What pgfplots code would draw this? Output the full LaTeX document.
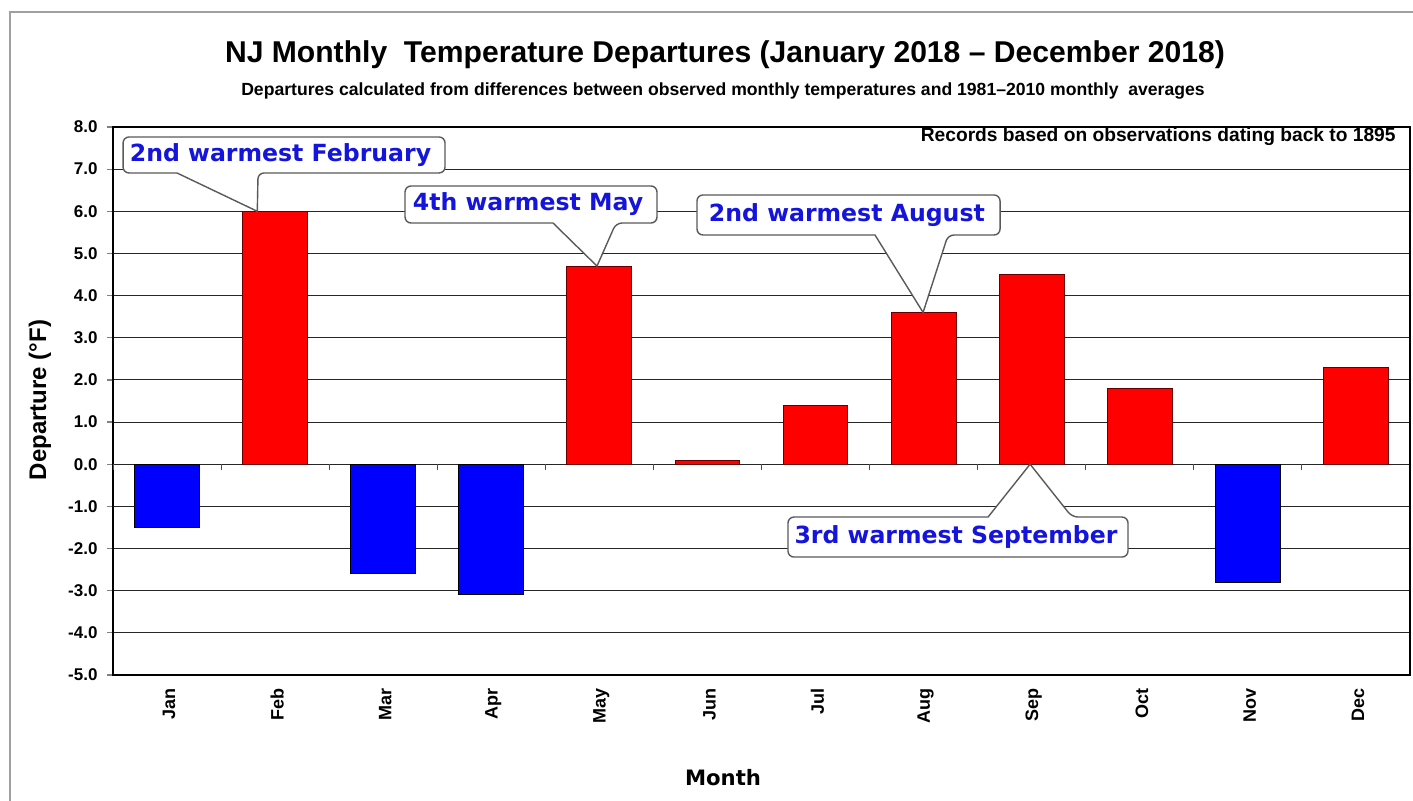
\documentclass[border=0pt]{standalone}
\usepackage{pgfplots}
\pgfplotsset{compat=1.18}
\usepackage{fontspec}
\setmainfont{Liberation Sans}
\newfontfamily\callfont{DejaVu Sans}
\definecolor{barred}{RGB}{255,0,0}
\definecolor{barblue}{RGB}{0,0,255}
\definecolor{calltext}{RGB}{20,20,220}
\definecolor{framegray}{RGB}{160,160,160}
\definecolor{callgray}{RGB}{90,90,90}
\tikzset{callbox/.style={draw=callgray, fill=white, line width=0.7pt},
  calltxt/.style={font=\callfont\bfseries\fontsize{11.8}{13}\selectfont, text=calltext, inner sep=0pt}}
\begin{document}
\begin{tikzpicture}
\useasboundingbox (0,0) rectangle (706.5pt,400.5pt);
\fill[white] (0,0) rectangle (706.5pt,400.5pt);
\draw[framegray, line width=0.6pt] (5pt,-20pt) -- (5pt,394.5pt) -- (730pt,394.5pt);
\node[font=\bfseries\fontsize{15.05}{18}\selectfont] at (362.5pt,373pt) {NJ Monthly\ \ Temperature Departures (January 2018 -- December 2018)};
\node[font=\bfseries\fontsize{8.8}{10}\selectfont] at (361.5pt,355pt) {Departures calculated from differences between observed monthly temperatures and 1981--2010 monthly\ \ averages};
\node[font=\bfseries\fontsize{12}{14}\selectfont, rotate=90] at (20pt,200.5pt) {Departure (\textdegree F)};
\node[font=\callfont\bfseries\fontsize{10.6}{12}\selectfont] at (361.5pt,11.5pt) {Month};
\begin{axis}[
  at={(56.5pt,63pt)}, anchor=south west,
  scale only axis, width=648.5pt, height=274pt,
  xmin=0.5, xmax=12.5, ymin=-5, ymax=8,
  xtick={1,...,12},
  xticklabels={Jan,Feb,Mar,Apr,May,Jun,Jul,Aug,Sep,Oct,Nov,Dec},
  x tick style={draw=none},
  xticklabel style={rotate=90, anchor=east, font=\bfseries\fontsize{9}{10}\selectfont, yshift=-1pt},
  ytick={-5,-4,...,8},
  ytick pos=left,
  tick align=outside,
  major tick length=3pt,
  y tick style={gray, line width=0.6pt},
  yticklabel style={font=\bfseries\fontsize{8.5}{10}\selectfont, xshift=-1.2pt},
  yticklabel={\pgfmathprintnumber[fixed, fixed zerofill, precision=1, assume math mode=true]{\tick}},
  ymajorgrids,
  grid style={black!85, line width=0.5pt},
  axis line style={black, line width=1.1pt},
  clip=false,
]
\addplot[ybar, bar width=0.6, bar shift=0pt, fill=barred, draw=black!60!red, line width=0.5pt]
  coordinates {(2,6.0) (5,4.7) (6,0.1) (7,1.4) (8,3.6) (9,4.5) (10,1.8) (12,2.3)};
\addplot[ybar, bar width=0.6, bar shift=0pt, fill=barblue, draw=black, line width=0.5pt]
  coordinates {(1,-1.5) (3,-2.6) (4,-3.1) (11,-2.8)};
% small boundary ticks on the zero line
\pgfplotsinvokeforeach{0.5,1.5,...,11.5}{
  \draw[black!70, line width=0.5pt] (axis cs:#1,0) -- (axis cs:#1,-0.13);
}
% Feb callout
\draw[callbox] (axis cs:2.0,7.763) [rounded corners=3pt] -- (axis cs:3.572,7.763) -- (axis cs:3.572,6.909) -- (axis cs:1.842,6.909) [sharp corners] -- (axis cs:1.835,6.0) -- (axis cs:1.092,6.909) [rounded corners=3pt] -- (axis cs:0.593,6.909) -- (axis cs:0.593,7.763) -- cycle;
\node[calltxt] at (axis cs:2.05,7.33) {2nd warmest February};
% May callout
\draw[callbox] (axis cs:4.3,6.600) [rounded corners=3pt] -- (axis cs:5.533,6.600) -- (axis cs:5.533,5.722) -- (axis cs:5.154,5.722) [sharp corners] -- (axis cs:4.978,4.7) -- (axis cs:4.571,5.722) [rounded corners=3pt] -- (axis cs:3.202,5.722) -- (axis cs:3.202,6.600) -- cycle;
\node[calltxt] at (axis cs:4.34,6.17) {4th warmest May};
% Aug callout
\draw[callbox] (axis cs:7.3,6.387) [rounded corners=3pt] -- (axis cs:8.707,6.387) -- (axis cs:8.707,5.438) -- (axis cs:8.226,5.438) [sharp corners] -- (axis cs:7.995,3.6) -- (axis cs:7.550,5.438) [rounded corners=3pt] -- (axis cs:5.903,5.438) -- (axis cs:5.903,6.387) -- cycle;
\node[calltxt] at (axis cs:7.29,5.92) {2nd warmest August};
% Sep callout
\draw[callbox] (axis cs:8.0,-2.202) [rounded corners=3pt] -- (axis cs:9.891,-2.202) -- (axis cs:9.891,-1.253) -- (axis cs:9.373,-1.253) [sharp corners] -- (axis cs:8.985,0) -- (axis cs:8.596,-1.253) [rounded corners=3pt] -- (axis cs:6.745,-1.253) -- (axis cs:6.745,-2.202) -- cycle;
\node[calltxt] at (axis cs:8.3,-1.72) {3rd warmest September};
\end{axis}
\node[anchor=east, inner sep=0pt, font=\bfseries\fontsize{9.6}{11}\selectfont] at (698pt,332pt) {Records based on observations dating back to 1895};
\end{tikzpicture}
\end{document}
